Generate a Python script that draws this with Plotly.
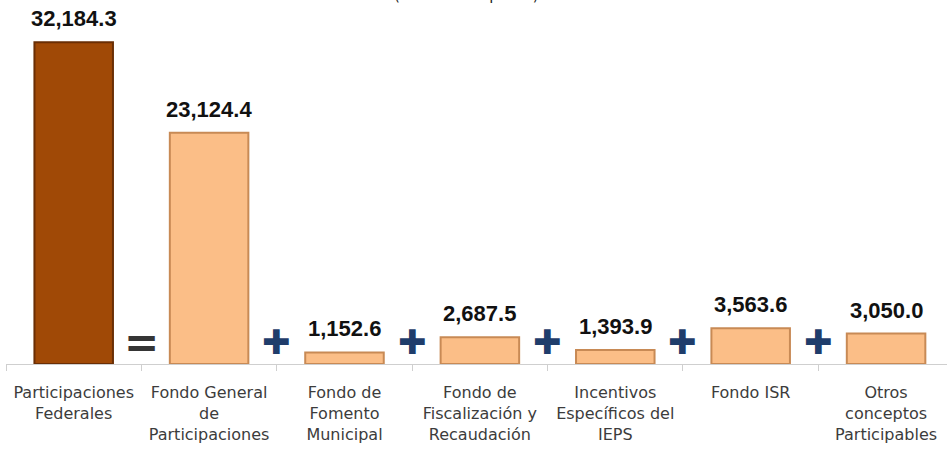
import plotly.graph_objects as go

categories = [
    "Participaciones<br>Federales",
    "Fondo General<br>de<br>Participaciones",
    "Fondo de<br>Fomento<br>Municipal",
    "Fondo de<br>Fiscalización y<br>Recaudación",
    "Incentivos<br>Específicos del<br>IEPS",
    "Fondo ISR",
    "Otros<br>conceptos<br>Participables",
]
values = [32184.3, 23124.4, 1152.6, 2687.5, 1393.9, 3563.6, 3050.0]
operators = ["=", "✚", "✚", "✚", "✚", "✚"]
subtitle = "(Millones de pesos)"

bar_colors = ["#A04906"] + ["#FBBE87"] * 6
edge_colors = ["#6A2E04"] + ["#C88A55"] * 6

fig = go.Figure()
fig.add_trace(go.Bar(
    x=list(range(len(categories))),
    y=values,
    width=0.58,
    marker=dict(color=bar_colors, line=dict(color=edge_colors, width=2)),
    hoverinfo="skip",
))

annotations = []
for i, v in enumerate(values):
    annotations.append(dict(
        x=i, y=v, xref="x", yref="y", text=f"{v:,.1f}", showarrow=False,
        yanchor="bottom", yshift=9,
        font=dict(family="Liberation Sans Narrow, Arial Narrow, sans-serif", size=22,
                  color="#111111", weight="bold"),
    ))
for j, op in enumerate(operators):
    if op == "=":
        annotations.append(dict(
            x=j + 0.5, y=0, xref="x", yref="y", text="=", showarrow=False,
            yanchor="middle", yshift=22,
            font=dict(family="DejaVu Sans", size=42, color="#353535", weight="bold"),
        ))
    else:
        annotations.append(dict(
            x=j + 0.5, y=0, xref="x", yref="y", text=op, showarrow=False,
            yanchor="middle", yshift=22,
            font=dict(family="DejaVu Sans", size=34, color="#1F3D6B"),
        ))
annotations.append(dict(
    x=0.4897, y=(364 - 6) / 344, xref="paper", yref="paper", text=subtitle, showarrow=False,
    xanchor="center", yanchor="bottom",
    font=dict(family="DejaVu Sans", size=15, color="#222222"),
))

fig.update_layout(
    annotations=annotations,
    width=947, height=461,
    margin=dict(l=6, r=0, t=20, b=97),
    paper_bgcolor="white", plot_bgcolor="white",
    showlegend=False,
    xaxis=dict(
        tickmode="array", tickvals=list(range(len(categories))), ticktext=categories,
        range=[-0.5, 6.45],
        showline=True, linecolor="#CFCFCF", linewidth=1,
        ticks="", showgrid=False, zeroline=False,
        tickfont=dict(family="DejaVu Sans", size=16, color="#3C3C3C"),
        ticklabelstandoff=14,
        automargin=False,
        fixedrange=True,
        minor=dict(tickvals=[i - 0.5 for i in range(len(categories) + 1)],
                   ticks="outside", ticklen=6, tickcolor="#CFCFCF", tickwidth=1),
    ),
    yaxis=dict(range=[0, 34400], visible=False, fixedrange=True),
)

fig.write_html("out.html", config={"displayModeBar": False},
               post_script="document.body.style.margin='0';")
